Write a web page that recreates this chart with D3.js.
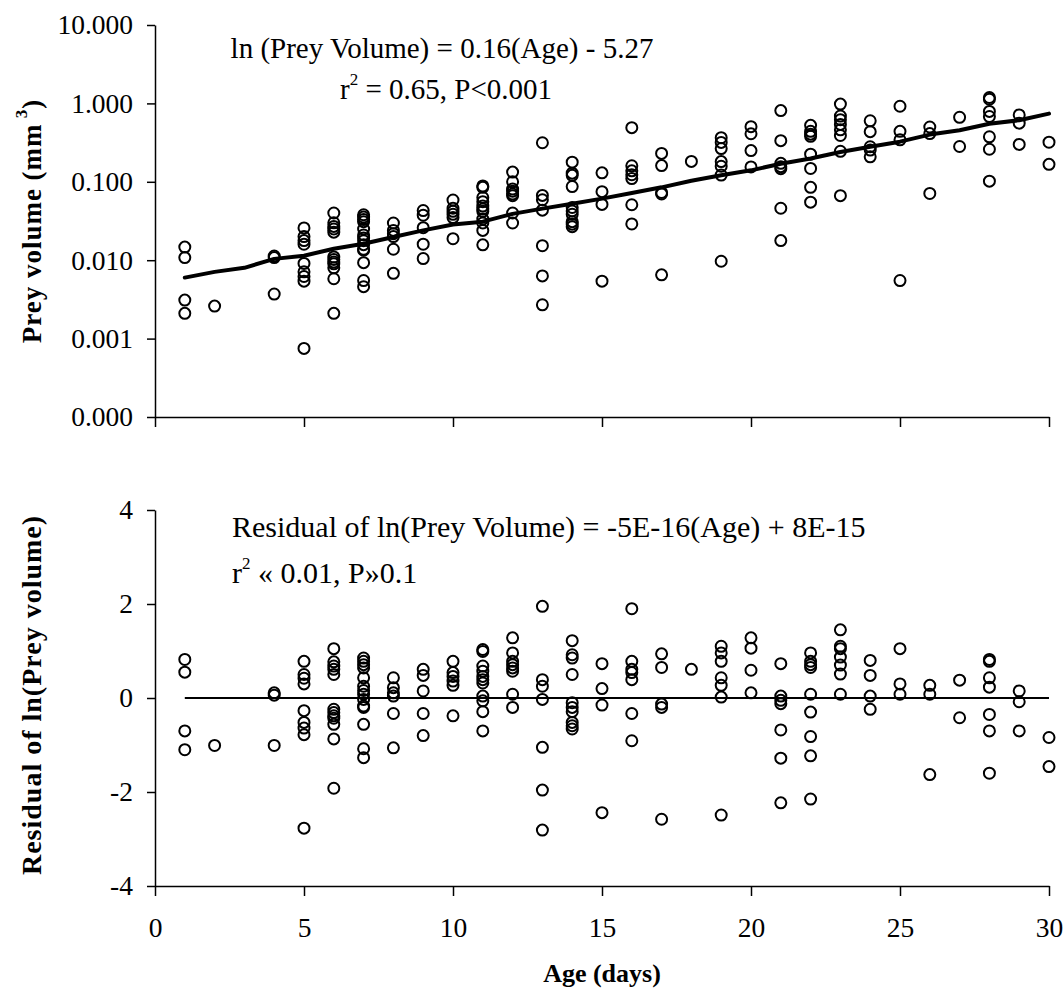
<!DOCTYPE html>
<html><head><meta charset="utf-8">
<script src="https://cdn.jsdelivr.net/npm/d3@7"></script>
<style>
html,body{margin:0;padding:0;background:#fff;}
text{font-family:"Liberation Serif","Times New Roman",serif;fill:#000;}
</style></head>
<body>
<svg id="chart" width="1064" height="993"></svg>
<script>
// ---------- DATA ----------
const ageDays = [1,2,4,5,6,7,8,9,10,11,12,13,14,15,16,17,18,19,20,21,22,23,24,25,26,27,28,29,30];

// Prey volume (mm^3) per age, top panel
const volumeByAge = [
  [0.0147,0.0108,0.0031,0.0021],
  [0.0026],
  [0.0113,0.0108,0.0037],
  [0.0258,0.0200,0.0178,0.0160,0.0091,0.0071,0.0062,0.0054,0.00075],
  [0.0400,0.0300,0.0270,0.0250,0.0228,0.0110,0.0102,0.0095,0.0090,0.0080,0.0058,0.0021],
  [0.0380,0.0355,0.0330,0.0310,0.0250,0.0210,0.0192,0.0177,0.0158,0.0138,0.0134,0.0093,0.0055,0.0046],
  [0.0298,0.0240,0.0218,0.0200,0.0138,0.0068],
  [0.0430,0.0375,0.0260,0.0160,0.0105],
  [0.0585,0.0460,0.0420,0.0385,0.0350,0.0188],
  [0.0885,0.0850,0.0630,0.0558,0.0490,0.0450,0.0420,0.0335,0.0298,0.0240,0.0157],
  [0.1330,0.1000,0.0810,0.0760,0.0700,0.0665,0.0400,0.0298],
  [0.315,0.0670,0.0590,0.0435,0.0153,0.0063,0.0027],
  [0.178,0.129,0.121,0.087,0.047,0.0425,0.0385,0.031,0.0288,0.0268],
  [0.130,0.0748,0.0515,0.0054],
  [0.490,0.160,0.138,0.123,0.110,0.051,0.029],
  [0.230,0.161,0.0730,0.0700,0.0065],
  [0.182],
  [0.365,0.318,0.265,0.181,0.158,0.122,0.0097],
  [0.505,0.410,0.250,0.155],
  [0.810,0.335,0.172,0.156,0.147,0.046,0.0178],
  [0.525,0.440,0.405,0.380,0.225,0.148,0.085,0.055],
  [0.980,0.690,0.620,0.540,0.460,0.390,0.245,0.0665],
  [0.600,0.436,0.280,0.254,0.208],
  [0.920,0.440,0.343,0.0055],
  [0.500,0.412,0.0710],
  [0.665,0.282],
  [1.19,1.13,0.79,0.68,0.375,0.26,0.102],
  [0.712,0.560,0.300],
  [0.320,0.167]
];

// Residual of ln(prey volume) per age, bottom panel
const residualByAge = [
  [0.82,0.55,-0.70,-1.10],
  [-1.01],
  [0.11,0.06,-1.01],
  [0.78,0.50,0.42,0.30,-0.27,-0.52,-0.64,-0.78,-2.77],
  [1.05,0.77,0.68,0.61,0.50,-0.24,-0.31,-0.38,-0.43,-0.56,-0.87,-1.92],
  [0.85,0.78,0.71,0.64,0.43,0.25,0.16,0.08,-0.03,-0.17,-0.20,-0.56,-1.08,-1.27],
  [0.43,0.22,0.11,0.04,-0.33,-1.06],
  [0.61,0.48,0.15,-0.33,-0.80],
  [0.78,0.54,0.46,0.36,0.27,-0.38],
  [1.03,0.99,0.68,0.57,0.46,0.39,0.32,0.04,-0.06,-0.29,-0.70],
  [1.28,0.96,0.78,0.71,0.64,0.57,0.08,-0.20],
  [1.95,0.39,0.25,-0.03,-1.05,-1.96,-2.81],
  [1.22,0.92,0.85,0.50,-0.10,-0.20,-0.29,-0.52,-0.59,-0.66],
  [0.73,0.20,-0.15,-2.44],
  [1.90,0.78,0.61,0.54,0.39,-0.33,-0.91],
  [0.94,0.65,-0.13,-0.20,-2.58],
  [0.61],
  [1.10,0.96,0.78,0.43,0.27,0.02,-2.49],
  [1.28,1.06,0.59,0.11],
  [0.73,0.04,-0.05,-0.12,-0.68,-1.28,-2.23],
  [0.96,0.78,0.71,0.65,0.08,-0.30,-0.82,-1.23,-2.15],
  [1.45,1.10,1.05,0.87,0.70,0.51,0.08],
  [0.80,0.48,0.04,-0.24],
  [1.05,0.30,0.08],
  [0.27,0.08,-1.63],
  [0.38,-0.42],
  [0.82,0.78,0.43,0.23,-0.35,-0.70,-1.60],
  [0.15,-0.08,-0.70],
  [-0.84,-1.46]
];

// Fitted line (top panel)
const fitLineDays = [1,2,3,4,5,6,7,8,9,10,11,12,13,14,15,16,17,18,19,20,21,22,23,24,25,26,27,28,29,30];
const fitLineVolumes = [0.0060,0.0071,0.0080,0.0104,0.0114,0.0140,0.0162,0.0198,0.0240,0.0285,0.0310,0.0390,0.0455,0.0525,0.0610,0.0720,0.0850,0.1030,0.1210,0.1400,0.1700,0.1980,0.2400,0.2800,0.3250,0.4000,0.4550,0.5500,0.6100,0.7400];

// Residual regression line (bottom panel)
const residLineDays = [1,30];
const residLineValues = [0,0];

// Ticks and labels
const xTicks = [0,5,10,15,20,25,30];
const topYTicks = [0.0001,0.001,0.01,0.1,1,10];
const botYTicks = [-4,-2,0,2,4];
const topEquation = "ln (Prey Volume) = 0.16(Age) - 5.27";
const topStatsR = "r", topStatsSup = "2", topStatsRest = " = 0.65, P<0.001";
const botEquation = "Residual of ln(Prey Volume) = -5E-16(Age) + 8E-15";
const botStatsR = "r", botStatsSup = "2", botStatsRest = " « 0.01, P»0.1";
const topYTitle = "Prey volume (mm", topYTitleSup = "3", topYTitleEnd = ")";
const botYTitle = "Residual of ln(Prey volume)";
const xTitle = "Age (days)";

// ---------- DRAW ----------
const svg = d3.select("#chart");
const TICK_FS = 27.5;

const x = d3.scaleLinear().domain([0,30]).range([155,1049]);
const yTop = d3.scaleLog().domain([0.0001,10]).range([417,25]);
const yBot = d3.scaleLinear().domain([-4,4]).range([886,510]);

function styleAxis(g){
  g.selectAll("path.domain").attr("stroke","#000").attr("stroke-width",1.5);
  g.selectAll(".tick line").attr("stroke","#000").attr("stroke-width",1.5);
  g.selectAll(".tick text").attr("font-family","Liberation Serif, Times New Roman, serif").attr("font-size",TICK_FS).attr("fill","#000");
}
const plainInt = d => String(d);

// Top panel axes
svg.append("g").attr("transform","translate(0,417)")
  .call(d3.axisBottom(x).tickValues(xTicks).tickSize(10).tickSizeOuter(0).tickFormat(""))
  .call(styleAxis);
svg.append("g").attr("transform","translate(155,0)")
  .call(d3.axisLeft(yTop).tickValues(topYTicks).tickSize(8).tickSizeOuter(0).tickPadding(14).tickFormat(d3.format(".3f")))
  .call(styleAxis);

// Bottom panel axes
svg.append("g").attr("transform","translate(0,886)")
  .call(d3.axisBottom(x).tickValues(xTicks).tickSize(10).tickSizeOuter(0).tickPadding(21).tickFormat(plainInt))
  .call(styleAxis);
svg.append("g").attr("transform","translate(155,0)")
  .call(d3.axisLeft(yBot).tickValues(botYTicks).tickSize(8).tickSizeOuter(0).tickPadding(14).tickFormat(plainInt))
  .call(styleAxis);

// Points
const topPts = [], botPts = [];
ageDays.forEach((a,i)=>{
  volumeByAge[i].forEach(v=>topPts.push({a,v}));
  residualByAge[i].forEach(r=>botPts.push({a,r}));
});

// Fit line top
svg.append("path")
  .datum(fitLineDays.map((d,i)=>[d,fitLineVolumes[i]]))
  .attr("fill","none").attr("stroke","#000").attr("stroke-width",4).attr("stroke-linejoin","round").attr("stroke-linecap","round")
  .attr("d", d3.line().x(d=>x(d[0])).y(d=>yTop(d[1])));

svg.append("g").selectAll("circle").data(topPts).join("circle")
  .attr("cx",d=>x(d.a)).attr("cy",d=>yTop(d.v)).attr("r",5.5)
  .attr("fill","none").attr("stroke","#000").attr("stroke-width",2);

// Zero line bottom
svg.append("path")
  .datum(residLineDays.map((d,i)=>[d,residLineValues[i]]))
  .attr("fill","none").attr("stroke","#000").attr("stroke-width",2)
  .attr("d", d3.line().x(d=>x(d[0])).y(d=>yBot(d[1])));

svg.append("g").selectAll("circle").data(botPts).join("circle")
  .attr("cx",d=>x(d.a)).attr("cy",d=>yBot(d.r)).attr("r",5.5)
  .attr("fill","none").attr("stroke","#000").attr("stroke-width",2);

// Annotations top
svg.append("text").attr("x",442).attr("y",58).attr("text-anchor","middle").attr("font-size",29).text(topEquation);
const t2 = svg.append("text").attr("x",446).attr("y",99).attr("text-anchor","middle").attr("font-size",29);
t2.append("tspan").text(topStatsR);
t2.append("tspan").attr("font-size",17).attr("dy",-14).text(topStatsSup);
t2.append("tspan").attr("dy",14).text(topStatsRest);

// Annotations bottom
svg.append("text").attr("x",232).attr("y",537).attr("font-size",30).text(botEquation);
const b2 = svg.append("text").attr("x",232).attr("y",583).attr("font-size",30);
b2.append("tspan").text(botStatsR);
b2.append("tspan").attr("font-size",17).attr("dy",-14).text(botStatsSup);
b2.append("tspan").attr("dy",14).text(botStatsRest);

// Axis titles
const yt = svg.append("text").attr("transform","translate(41,221) rotate(-90)")
  .attr("text-anchor","middle").attr("font-size",27).attr("font-weight","bold").attr("letter-spacing",1);
yt.append("tspan").text(topYTitle);
yt.append("tspan").attr("font-size",17).attr("dy",-14).text(" " + topYTitleSup);
yt.append("tspan").attr("dy",14).text(topYTitleEnd);

svg.append("text").attr("transform","translate(41,695) rotate(-90)")
  .attr("text-anchor","middle").attr("font-size",28).attr("font-weight","bold").attr("letter-spacing",1).text(botYTitle);

svg.append("text").attr("x",602).attr("y",982).attr("text-anchor","middle")
  .attr("font-size",26).attr("font-weight","bold").text(xTitle);
</script>
</body></html>
